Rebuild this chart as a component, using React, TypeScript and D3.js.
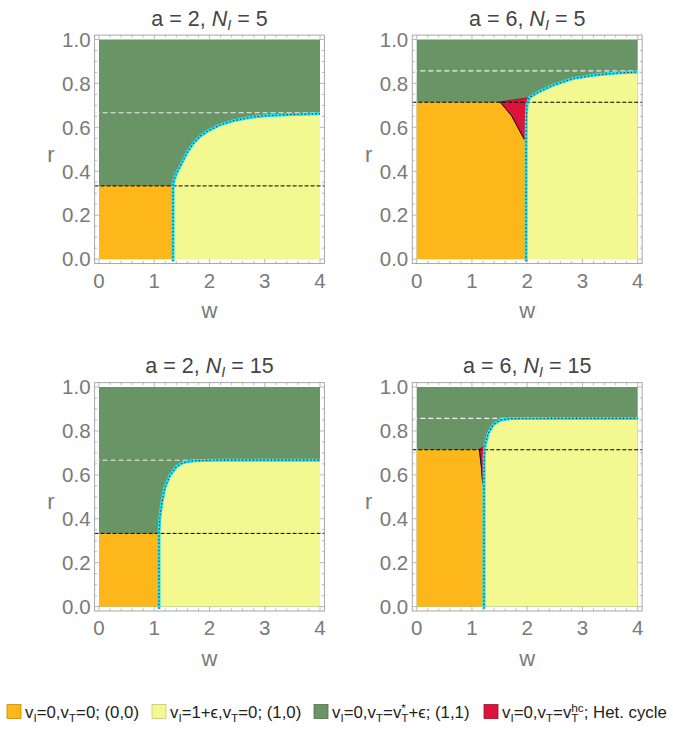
import React, { useEffect } from "react";
import * as d3 from "d3";

type Pt = [number, number];

// ---- Data ----
const aValues = [2, 6, 2, 6];
const nValues = [5, 5, 15, 15];
const lowerThreshold = [1 / 3, 5 / 7, 1 / 3, 5 / 7]; // black dashed
const upperThreshold = [2 / 3, 6 / 7, 2 / 3, 6 / 7]; // white dashed
const criticalW = [1.34, 1.98, 1.086, 1.218];

const boundaryA2N5: Pt[] = [
  [1.34, 0.333], [1.36, 0.36], [1.40, 0.39], [1.466, 0.421], [1.587, 0.482], [1.707, 0.527],
  [1.828, 0.558], [1.979, 0.585], [2.19, 0.611], [2.43, 0.630], [2.73, 0.645],
  [3.03, 0.653], [3.52, 0.659], [4.0, 0.662],
];
const boundaryA6N5: Pt[] = [
  [1.98, 0.545], [1.985, 0.65], [1.995, 0.70], [2.04, 0.736], [2.23, 0.764],
  [2.47, 0.792], [2.83, 0.822], [3.2, 0.837], [3.62, 0.847], [4.0, 0.852],
];
const boundaryA2N15: Pt[] = [
  [1.086, 0.333], [1.10, 0.40], [1.13, 0.46], [1.19, 0.54], [1.285, 0.598],
  [1.406, 0.638], [1.527, 0.656], [1.71, 0.664], [2.13, 0.667], [4.0, 0.667],
];
const boundaryA6N15: Pt[] = [
  [1.218, 0.562], [1.222, 0.68], [1.236, 0.733], [1.296, 0.79], [1.387, 0.828],
  [1.507, 0.849], [1.69, 0.856], [2.41, 0.857], [4.0, 0.857],
];
const boundaryCurves = [boundaryA2N5, boundaryA6N5, boundaryA2N15, boundaryA6N15];

const hetCycleA6N5: Pt[] = [
  [1.508, 0.716], [1.72, 0.652], [1.947, 0.545], [1.98, 0.545], [1.985, 0.65], [1.995, 0.70], [2.04, 0.736],
];
const hetCycleA6N15: Pt[] = [
  [1.133, 0.717], [1.17, 0.64], [1.194, 0.562], [1.218, 0.562], [1.222, 0.68], [1.236, 0.733],
];
const hetCycles: (Pt[] | null)[] = [null, hetCycleA6N5, null, hetCycleA6N15];

const xTickValues = [0, 1, 2, 3, 4];
const xTickLabels = ["0", "1", "2", "3", "4"];
const yTickValues = [0, 0.2, 0.4, 0.6, 0.8, 1.0];
const yTickLabels = ["0.0", "0.2", "0.4", "0.6", "0.8", "1.0"];

const legendKeys = ["orange", "yellow", "green", "red"];

// ---- Styles / layout ----
const COLORS: Record<string, string> = {
  orange: "#FDB71A",
  yellow: "#F3F891",
  green: "#699566",
  red: "#DC143C",
  cyan: "#22E3EE",
};
const BORDER: Record<string, string> = {
  orange: "#C98A00",
  yellow: "#C4C87A",
  green: "#4E7249",
  red: "#A00A28",
};
const FONT = "'Liberation Sans', Arial, Helvetica, sans-serif";
const panelLeft = [99, 416.7, 99, 416.7];
const panelTop = [39.5, 39.5, 387, 387];
const plotW = 221;
const plotH = 219.6;
const legendX = [7, 152, 314, 484];
const legendY = 704.5;

function Panel({ i }: { i: number }) {
  const left = panelLeft[i];
  const top = panelTop[i];
  const x = d3.scaleLinear().domain([0, 4]).range([left, left + plotW]);
  const y = d3.scaleLinear().domain([0, 1]).range([top + plotH, top]);
  const padX = 0.02 * plotW;
  const padY = 0.02 * plotH;
  const fx0 = x(0) - padX, fx1 = x(4) + padX, fy0 = y(0) + padY, fy1 = y(1) - padY;
  const line = d3.line<Pt>().x((d) => x(d[0])).y((d) => y(d[1]));
  const curve = boundaryCurves[i];
  const wc = criticalW[i];
  const last = curve[curve.length - 1];
  const yellowPts: Pt[] = [[wc, 0], ...curve, [4, last[1]], [4, 0]];
  const cyanPts: Pt[] = [[wc, -0.01], ...curve];
  const het = hetCycles[i];
  const grey = "#a8a8a8";

  const minorX = d3.range(0, 4.0001, 0.2);
  const minorY = d3.range(0, 1.0001, 0.05);
  const isMajorX = (v: number) => Math.abs(v - Math.round(v)) < 1e-6;
  const isMajorY = (v: number) => Math.abs(v * 5 - Math.round(v * 5)) < 1e-6;

  const cx = (x(0) + x(4)) / 2;
  return (
    <g>
      {/* regions */}
      <rect x={x(0)} y={y(1)} width={x(4) - x(0)} height={y(0) - y(1)} fill={COLORS.green} />
      <path d={line(yellowPts) + "Z"} fill={COLORS.yellow} />
      <rect x={x(0)} y={y(lowerThreshold[i])} width={x(wc) - x(0)} height={y(0) - y(lowerThreshold[i])} fill={COLORS.orange} />
      {het && (
        <>
          <path d={line(het) + "Z"} fill={COLORS.red} stroke="#8a0a20" strokeWidth={0.7} />
          <path d={line(het.slice(0, 3)) || ""} fill="none" stroke="#111" strokeWidth={1} />
        </>
      )}
      {/* threshold lines */}
      <line x1={fx0} x2={fx1} y1={y(upperThreshold[i])} y2={y(upperThreshold[i])} stroke="#f0f0f0" strokeWidth={1.1} strokeDasharray="5,3" />
      <line x1={fx0} x2={fx1} y1={y(lowerThreshold[i])} y2={y(lowerThreshold[i])} stroke="#000" strokeWidth={1} strokeDasharray="4,2" />
      {/* boundary */}
      <path d={line(cyanPts) || ""} fill="none" stroke={COLORS.cyan} strokeWidth={3} />
      <path d={line(cyanPts) || ""} fill="none" stroke="#1d3550" strokeWidth={1.1} strokeDasharray="1.4,2.2" />
      {/* frame */}
      <rect x={fx0} y={fy1} width={fx1 - fx0} height={fy0 - fy1} fill="none" stroke={grey} strokeWidth={1} />
      {minorX.map((v, k) => {
        const len = isMajorX(v) ? 4.5 : 2.5;
        return (
          <g key={"mx" + k}>
            <line x1={x(v)} x2={x(v)} y1={fy0} y2={fy0 - len} stroke={grey} strokeWidth={0.8} />
            <line x1={x(v)} x2={x(v)} y1={fy1} y2={fy1 + len} stroke={grey} strokeWidth={0.8} />
          </g>
        );
      })}
      {minorY.map((v, k) => {
        const len = isMajorY(v) ? 4.5 : 2.5;
        return (
          <g key={"my" + k}>
            <line x1={fx0} x2={fx0 + len} y1={y(v)} y2={y(v)} stroke={grey} strokeWidth={0.8} />
            <line x1={fx1} x2={fx1 - len} y1={y(v)} y2={y(v)} stroke={grey} strokeWidth={0.8} />
          </g>
        );
      })}
      {/* tick labels */}
      {xTickValues.map((v, k) => (
        <text key={"xl" + k} x={x(v)} y={fy0 + 24.5} textAnchor="middle" fontFamily={FONT} fontSize={20.5} fill="#7a7a7a">
          {xTickLabels[k]}
        </text>
      ))}
      {yTickValues.map((v, k) => (
        <text key={"yl" + k} x={fx0 - 4} y={y(v) + 7.3} textAnchor="end" fontFamily={FONT} fontSize={20.5} fill="#7a7a7a">
          {yTickLabels[k]}
        </text>
      ))}
      {/* axis labels */}
      <text x={cx} y={y(0) + 59} textAnchor="middle" fontFamily={FONT} fontSize={22} fill="#7a7a7a">w</text>
      <text x={left - 48} y={top + 122} textAnchor="middle" fontFamily={FONT} fontSize={22} fill="#7a7a7a">r</text>
      {/* title */}
      <text x={cx} y={top - 14} textAnchor="middle" fontFamily={FONT} fontSize={21.5} fill="#444">
        {`a = ${aValues[i]}, `}
        <tspan fontStyle="italic">N</tspan>
        <tspan fontStyle="italic" fontSize={14.5} dy={4}>I</tspan>
        <tspan dy={-4}>{` = ${nValues[i]}`}</tspan>
      </text>
    </g>
  );
}

function LegendLabel({ k, x, y }: { k: number; x: number; y: number }) {
  const fs = 16.8;
  const sub = 11.8;
  const common = { fontFamily: FONT, fontSize: fs, fill: "#222" };
  if (k === 0)
    return (
      <text x={x} y={y} {...common}>
        v<tspan fontSize={sub} dy={3.5}>I</tspan><tspan dy={-3.5}>=0,v</tspan>
        <tspan fontSize={sub} dy={3.5}>T</tspan><tspan dy={-3.5}>=0; (0,0)</tspan>
      </text>
    );
  if (k === 1)
    return (
      <text x={x} y={y} {...common}>
        v<tspan fontSize={sub} dy={3.5}>I</tspan><tspan dy={-3.5}>=1+ϵ,v</tspan>
        <tspan fontSize={sub} dy={3.5}>T</tspan><tspan dy={-3.5}>=0; (1,0)</tspan>
      </text>
    );
  if (k === 2)
    return (
      <text x={x} y={y} {...common}>
        v<tspan fontSize={sub} dy={3.5}>I</tspan><tspan dy={-3.5}>=0,v</tspan>
        <tspan fontSize={sub} dy={3.5}>T</tspan><tspan dy={-3.5}>=v</tspan>
        <tspan fontSize={sub} dy={3.5}>T</tspan>
        <tspan fontSize={sub} dx={-7.2} dy={-10}>*</tspan>
        <tspan dx={2.6} dy={6.5}>+ϵ; (1,1)</tspan>
      </text>
    );
  return (
    <text x={x} y={y} {...common}>
      v<tspan fontSize={sub} dy={3.5}>I</tspan><tspan dy={-3.5}>=0,v</tspan>
      <tspan fontSize={sub} dy={3.5}>T</tspan><tspan dy={-3.5}>=v</tspan>
      <tspan fontSize={sub} dy={3.5}>T</tspan>
      <tspan fontSize={sub} dx={-7.2} dy={-10}>hc</tspan>
      <tspan dy={6.5}>; Het. cycle</tspan>
    </text>
  );
}

export default function App() {
  useEffect(() => {
    document.body.style.margin = "0";
  }, []);
  return (
    <svg width={673} height={729} style={{ display: "block", position: "absolute", left: 0, top: 0, background: "#fff" }}>
      <rect width={673} height={729} fill="#fff" />
      {[0, 1, 2, 3].map((i) => (
        <Panel key={i} i={i} />
      ))}
      {legendKeys.map((key, k) => (
        <g key={key}>
          <rect x={legendX[k]} y={legendY} width={14} height={14} fill={COLORS[key]} stroke={BORDER[key]} strokeWidth={0.8} />
          <LegendLabel k={k} x={legendX[k] + 18} y={legendY + 13.5} />
        </g>
      ))}
    </svg>
  );
}
